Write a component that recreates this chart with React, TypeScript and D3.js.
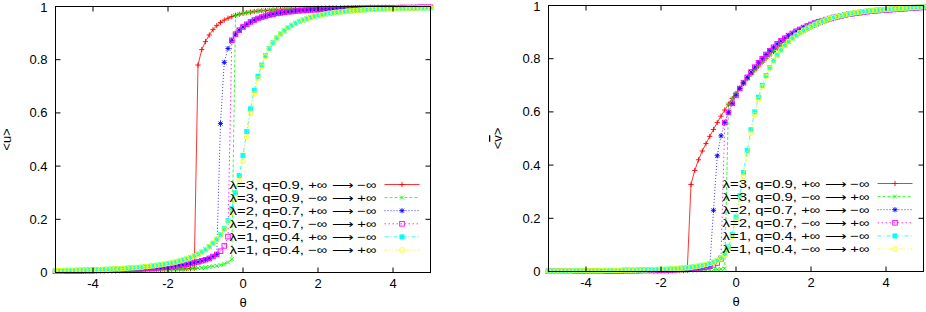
import React from 'react';
import * as d3 from 'd3';

// sweep grid of theta, shared by every series
const theta = [
  -5.0, -4.9, -4.8, -4.7, -4.6, -4.5, -4.4, -4.3, -4.2, -4.1,
  -4.0, -3.9, -3.8, -3.7, -3.6, -3.5, -3.4, -3.3, -3.2, -3.1,
  -3.0, -2.9, -2.8, -2.7, -2.6, -2.5, -2.4, -2.3, -2.2, -2.1,
  -2.0, -1.9, -1.8, -1.7, -1.6, -1.5, -1.4, -1.3, -1.2, -1.1,
  -1.0, -0.9, -0.8, -0.7, -0.6, -0.5, -0.4, -0.3, -0.2, -0.1,
  0.0, 0.1, 0.2, 0.3, 0.4, 0.5, 0.6, 0.7, 0.8, 0.9,
  1.0, 1.1, 1.2, 1.3, 1.4, 1.5, 1.6, 1.7, 1.8, 1.9,
  2.0, 2.1, 2.2, 2.3, 2.4, 2.5, 2.6, 2.7, 2.8, 2.9,
  3.0, 3.1, 3.2, 3.3, 3.4, 3.5, 3.6, 3.7, 3.8, 3.9,
  4.0, 4.1, 4.2, 4.3, 4.4, 4.5, 4.6, 4.7, 4.8, 4.9,
  5.0,
];

// ---- left panel: <u> ----
const uL3down = [
  .004, .004, .004, .004, .004, .004, .005, .005, .005, .005,
  .005, .005, .006, .006, .006, .006, .006, .007, .007, .007,
  .007, .008, .008, .008, .009, .009, .009, .010, .010, .011,
  .011, .012, .012, .013, .013, .014, .015, .016, .780, .838,
  .868, .893, .913, .928, .940, .949, .956, .962, .967, .971,
  .974, .977, .979, .981, .983, .984, .985, .986, .987, .988,
  .989, .990, .990, .991, .991, .992, .992, .993, .993, .993,
  .994, .994, .994, .995, .995, .995, .995, .995, .996, .996,
  .996, .996, .996, .996, .997, .997, .997, .997, .997, .997,
  .997, .997, .997, .997, .997, .998, .998, .998, .998, .998,
  .998,
];
const uL3up = [
  .004, .004, .004, .004, .004, .004, .005, .005, .005, .005,
  .005, .005, .006, .006, .006, .006, .006, .007, .007, .007,
  .007, .008, .008, .008, .009, .009, .009, .010, .010, .011,
  .011, .012, .012, .013, .013, .014, .015, .016, .017, .018,
  .019, .021, .023, .025, .028, .032, .038, .050, .967, .971,
  .974, .977, .979, .981, .983, .984, .985, .986, .987, .988,
  .989, .990, .990, .991, .991, .992, .992, .993, .993, .993,
  .994, .994, .994, .995, .995, .995, .995, .995, .996, .996,
  .996, .996, .996, .996, .997, .997, .997, .997, .997, .997,
  .997, .997, .997, .997, .997, .998, .998, .998, .998, .998,
  .998,
];
const uL2down = [
  .005, .005, .005, .005, .006, .006, .006, .006, .007, .007,
  .007, .008, .008, .008, .009, .009, .010, .010, .011, .011,
  .012, .013, .013, .014, .015, .016, .017, .018, .019, .020,
  .022, .023, .025, .027, .029, .031, .034, .037, .040, .044,
  .048, .053, .060, .068, .560, .790, .842, .873, .896, .911,
  .923, .933, .942, .949, .955, .960, .964, .968, .971, .974,
  .976, .978, .980, .981, .983, .984, .985, .986, .987, .988,
  .988, .989, .989, .990, .990, .991, .991, .992, .992, .992,
  .993, .993, .993, .994, .994, .994, .994, .995, .995, .995,
  .995, .995, .996, .996, .996, .996, .996, .997, .997, .997,
  .997,
];
const uL2up = [
  .005, .005, .005, .005, .006, .006, .006, .006, .007, .007,
  .007, .008, .008, .008, .009, .009, .010, .010, .011, .011,
  .012, .013, .013, .014, .015, .016, .017, .018, .019, .020,
  .022, .023, .025, .027, .029, .031, .034, .037, .040, .044,
  .048, .053, .060, .068, .080, .100, .135, .873, .896, .911,
  .923, .933, .942, .949, .955, .960, .964, .968, .971, .974,
  .976, .978, .980, .981, .983, .984, .985, .986, .987, .988,
  .988, .989, .989, .990, .990, .991, .991, .992, .992, .992,
  .993, .993, .993, .994, .994, .994, .994, .995, .995, .995,
  .995, .995, .996, .996, .996, .996, .996, .997, .997, .997,
  .997,
];
const uL1down = [
  .007, .007, .007, .008, .008, .008, .009, .009, .009, .010,
  .010, .011, .011, .012, .012, .013, .014, .014, .015, .016,
  .017, .018, .019, .020, .022, .023, .025, .027, .029, .031,
  .034, .036, .039, .043, .047, .051, .056, .062, .069, .077,
  .086, .097, .110, .125, .143, .165, .195, .240, .300, .365,
  .440, .530, .615, .685, .738, .780, .815, .842, .864, .882,
  .897, .909, .920, .929, .937, .944, .949, .954, .959, .963,
  .966, .969, .972, .974, .976, .978, .980, .981, .983, .984,
  .985, .986, .987, .988, .989, .989, .990, .991, .991, .992,
  .992, .993, .993, .993, .994, .994, .994, .995, .995, .995,
  .995,
];
const uL1up = [
  .007, .007, .007, .008, .008, .008, .009, .009, .009, .010,
  .010, .011, .011, .012, .012, .013, .014, .014, .015, .016,
  .017, .018, .019, .020, .022, .023, .025, .027, .029, .031,
  .034, .036, .039, .043, .047, .051, .056, .062, .069, .077,
  .086, .097, .110, .124, .141, .162, .190, .225, .280, .345,
  .418, .510, .600, .672, .728, .775, .812, .840, .862, .881,
  .897, .909, .920, .929, .937, .944, .949, .954, .959, .963,
  .966, .969, .972, .974, .976, .978, .980, .981, .983, .984,
  .985, .986, .987, .988, .989, .989, .990, .991, .991, .992,
  .992, .993, .993, .993, .994, .994, .994, .995, .995, .995,
  .995,
];

// ---- right panel: <v> ----
const vL3down = [
  .001, .001, .001, .001, .001, .001, .001, .001, .001, .001,
  .001, .001, .001, .001, .001, .001, .001, .001, .001, .001,
  .001, .002, .002, .002, .002, .002, .002, .002, .002, .002,
  .002, .002, .002, .003, .003, .003, .003, .004, .327, .380,
  .420, .453, .481, .508, .534, .560, .584, .607, .629, .650,
  .670, .689, .707, .724, .741, .757, .772, .787, .801, .814,
  .827, .839, .850, .861, .871, .880, .889, .897, .905, .912,
  .919, .925, .931, .937, .942, .947, .951, .955, .959, .963,
  .966, .969, .972, .974, .976, .978, .980, .982, .983, .985,
  .986, .987, .988, .989, .990, .991, .992, .993, .993, .994,
  .995,
];
const vL3up = [
  .001, .001, .001, .001, .001, .001, .001, .001, .001, .001,
  .001, .001, .001, .001, .001, .001, .001, .001, .001, .001,
  .001, .002, .002, .002, .002, .002, .002, .002, .002, .002,
  .002, .002, .002, .003, .003, .003, .003, .004, .004, .004,
  .005, .005, .006, .006, .007, .008, .009, .011, .629, .650,
  .670, .689, .707, .724, .741, .757, .772, .787, .801, .814,
  .827, .839, .850, .861, .871, .880, .889, .897, .905, .912,
  .919, .925, .931, .937, .942, .947, .951, .955, .959, .963,
  .966, .969, .972, .974, .976, .978, .980, .982, .983, .985,
  .986, .987, .988, .989, .990, .991, .992, .993, .993, .994,
  .995,
];
const vL2down = [
  .001, .001, .001, .001, .001, .001, .001, .001, .001, .001,
  .002, .002, .002, .002, .002, .002, .002, .002, .002, .002,
  .003, .003, .003, .003, .003, .004, .004, .004, .004, .004,
  .005, .005, .006, .006, .007, .008, .008, .009, .010, .011,
  .013, .015, .017, .020, .230, .435, .510, .560, .598, .632,
  .662, .688, .710, .730, .750, .768, .785, .800, .816, .830,
  .843, .856, .867, .877, .887, .895, .903, .910, .917, .923,
  .929, .934, .939, .943, .947, .951, .955, .958, .961, .964,
  .967, .969, .971, .973, .975, .977, .978, .980, .981, .982,
  .983, .984, .985, .986, .987, .988, .989, .990, .991, .992,
  .993,
];
const vL2up = [
  .001, .001, .001, .001, .001, .001, .001, .001, .001, .001,
  .002, .002, .002, .002, .002, .002, .002, .002, .002, .002,
  .003, .003, .003, .003, .003, .004, .004, .004, .004, .004,
  .005, .005, .006, .006, .007, .008, .008, .009, .010, .011,
  .013, .015, .017, .020, .025, .032, .048, .560, .598, .632,
  .662, .688, .710, .730, .750, .768, .785, .800, .816, .830,
  .843, .856, .867, .877, .887, .895, .903, .910, .917, .923,
  .929, .934, .939, .943, .947, .951, .955, .958, .961, .964,
  .967, .969, .971, .973, .975, .977, .978, .980, .981, .982,
  .983, .984, .985, .986, .987, .988, .989, .990, .991, .992,
  .993,
];
const vL1down = [
  .002, .002, .002, .002, .002, .002, .002, .003, .003, .003,
  .003, .003, .003, .003, .003, .004, .004, .004, .004, .004,
  .005, .005, .005, .005, .006, .006, .006, .007, .007, .008,
  .008, .008, .009, .010, .011, .012, .013, .014, .016, .018,
  .020, .023, .026, .030, .035, .042, .052, .067, .092, .140,
  .205, .285, .372, .455, .533, .600, .655, .700, .737, .767,
  .792, .814, .833, .850, .864, .877, .888, .898, .907, .915,
  .922, .929, .935, .941, .946, .951, .955, .959, .962, .965,
  .968, .971, .973, .975, .977, .979, .980, .982, .983, .984,
  .985, .986, .987, .988, .989, .990, .991, .992, .993, .994,
  .995,
];
const vL1up = [
  .002, .002, .002, .002, .002, .002, .002, .003, .003, .003,
  .003, .003, .003, .003, .003, .004, .004, .004, .004, .004,
  .005, .005, .005, .005, .006, .006, .006, .007, .007, .008,
  .008, .008, .009, .010, .011, .012, .013, .014, .016, .018,
  .020, .023, .026, .030, .035, .041, .050, .064, .088, .133,
  .195, .272, .358, .442, .520, .590, .647, .694, .733, .764,
  .792, .814, .833, .850, .864, .877, .888, .898, .907, .915,
  .922, .929, .935, .941, .946, .951, .955, .959, .962, .965,
  .968, .971, .973, .975, .977, .979, .980, .982, .983, .984,
  .985, .986, .987, .988, .989, .990, .991, .992, .993, .994,
  .995,
];

const labels = [
  'λ=3, q=0.9, +∞ ⟶ −∞',
  'λ=3, q=0.9, −∞ ⟶ +∞',
  'λ=2, q=0.7, +∞ ⟶ −∞',
  'λ=2, q=0.7, −∞ ⟶ +∞',
  'λ=1, q=0.4, +∞ ⟶ −∞',
  'λ=1, q=0.4, −∞ ⟶ +∞',
];
const colors = ['#ff0000', '#00ff00', '#0000ff', '#ff00ff', '#00ffff', '#ffff00'];
const dashes = ['', '3,2', '1,2', '1.5,2.5', '4,2,1,2', '3,2,1,2,1,2'];
const markers = ['plus', 'cross', 'star', 'square', 'fsquare', 'circle'];

const xTicks = [-4, -2, 0, 2, 4];
const yTicks = [0, 0.2, 0.4, 0.6, 0.8, 1];

const font = '"Liberation Sans", Arial, Helvetica, sans-serif';

const Marker = ({ type, x, y, color }) => {
  const s = 2.6;
  if (type === 'plus')
    return <path d={`M${x - s},${y}H${x + s}M${x},${y - s}V${y + s}`} stroke={color} strokeWidth={0.9} />;
  if (type === 'cross')
    return <path d={`M${x - 2},${y - 2}L${x + 2},${y + 2}M${x - 2},${y + 2}L${x + 2},${y - 2}`} stroke={color} strokeWidth={0.9} />;
  if (type === 'star')
    return (
      <path
        d={`M${x - s},${y}H${x + s}M${x},${y - s}V${y + s}M${x - 2},${y - 2}L${x + 2},${y + 2}M${x - 2},${y + 2}L${x + 2},${y - 2}`}
        stroke={color}
        strokeWidth={0.9}
      />
    );
  if (type === 'square')
    return <rect x={x - 2.3} y={y - 2.3} width={4.6} height={4.6} fill="none" stroke={color} strokeWidth={0.9} />;
  if (type === 'fsquare')
    return <rect x={x - 2.5} y={y - 2.5} width={5} height={5} fill={color} />;
  return <circle cx={x} cy={y} r={2.4} fill="none" stroke={color} strokeWidth={0.9} />;
};

const Panel = ({ box, series, yLabel, yLabelX }) => {
  const x = d3.scaleLinear().domain([-5, 5]).range([box.left, box.right]);
  const y = d3.scaleLinear().domain([0, 1]).range([box.bottom, box.top]);
  const line = d3.line<number>().x((_, i) => x(theta[i])).y((d) => y(d));
  const tick = 5;

  return (
    <g fontFamily={font} fontSize={13} fill="#000">
      {/* curves, first series underneath */}
      {series.map((vals, k) => (
        <g key={k}>
          <path d={line(vals)} fill="none" stroke={colors[k]} strokeWidth={1} strokeOpacity={0.8} strokeDasharray={dashes[k]} />
          {vals.map((v, i) => (
            <Marker key={i} type={markers[k]} x={x(theta[i])} y={y(v)} color={colors[k]} />
          ))}
        </g>
      ))}

      {/* legend */}
      {labels.map((lab, k) => {
        const ly = box.bottom - 88 + 13.1 * k;
        return (
          <g key={k}>
            <text x={box.right - 54} y={ly} dy="0.35em" textAnchor="end" fontSize={11.8}
              textLength={147} lengthAdjust="spacingAndGlyphs">{lab}</text>
            <line x1={box.right - 46} x2={box.right - 11} y1={ly} y2={ly} stroke={colors[k]} strokeOpacity={0.8} strokeDasharray={dashes[k]} />
            <Marker type={markers[k]} x={box.right - 28.5} y={ly} color={colors[k]} />
          </g>
        );
      })}

      {/* border + mirrored ticks */}
      <rect x={box.left} y={box.top} width={box.right - box.left} height={box.bottom - box.top} fill="none" stroke="#000" />
      {yTicks.map((t) => (
        <g key={t}>
          <line x1={box.left} x2={box.left + tick} y1={y(t)} y2={y(t)} stroke="#000" />
          <line x1={box.right} x2={box.right - tick} y1={y(t)} y2={y(t)} stroke="#000" />
          <text x={box.left - 8} y={y(t)} dy={t === 1 ? '0.42em' : '0.35em'} textAnchor="end">{t}</text>
        </g>
      ))}
      {xTicks.map((t) => (
        <g key={t}>
          <line x1={x(t)} x2={x(t)} y1={box.bottom} y2={box.bottom - tick} stroke="#000" />
          <line x1={x(t)} x2={x(t)} y1={box.top} y2={box.top + tick} stroke="#000" />
          <text x={x(t)} y={box.bottom + 15} textAnchor="middle">{t}</text>
        </g>
      ))}

      {/* axis titles */}
      <text x={(box.left + box.right) / 2} y={box.bottom + 34} textAnchor="middle">θ</text>
      <text transform={`translate(${yLabelX},${(box.top + box.bottom) / 2}) rotate(-90)`} textAnchor="middle">
        {'<'}
        <tspan textDecoration="overline" style={{ textDecoration: 'overline' }}>{yLabel}</tspan>
        {'>'}
      </text>
    </g>
  );
};

export default function App() {
  const leftBox = { left: 55.5, right: 430.5, top: 6.5, bottom: 272.5 };
  const rightBox = { left: 548.5, right: 923.5, top: 5.5, bottom: 271.5 };
  return (
    <svg width={926} height={312} style={{ position: 'absolute', left: 0, top: 0, background: '#fff' }}>
      <rect width={926} height={312} fill="#fff" />
      <Panel box={leftBox} series={[uL3down, uL3up, uL2down, uL2up, uL1down, uL1up]} yLabel="u" yLabelX={11} />
      <Panel box={rightBox} series={[vL3down, vL3up, vL2down, vL2up, vL1down, vL1up]} yLabel="v" yLabelX={502} />
    </svg>
  );
}
